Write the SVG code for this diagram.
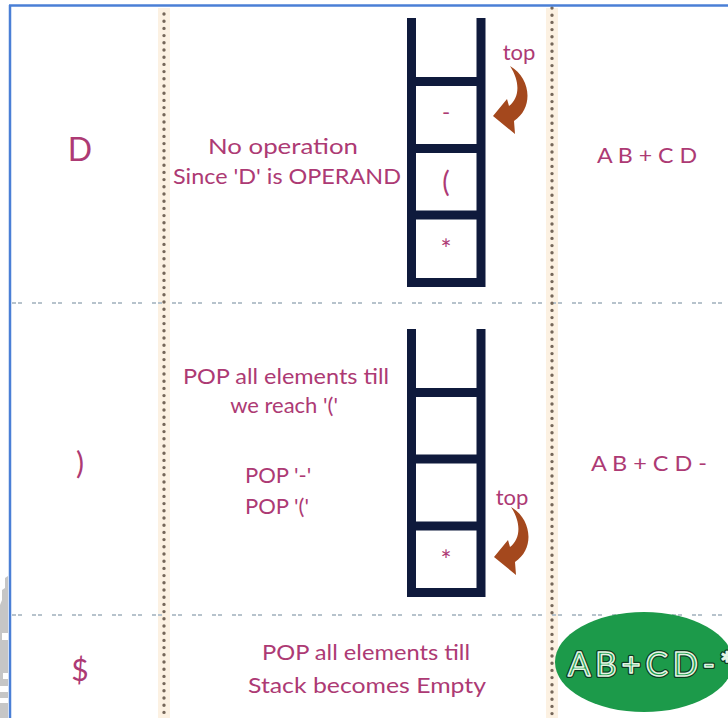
<svg xmlns="http://www.w3.org/2000/svg" width="728" height="718" viewBox="0 0 728 718">
<style>
.t{font-family:Lato,"Open Sans","Liberation Sans",sans-serif;fill:#ad3a74;}
.stack{fill:none;stroke:#0f1a3c;stroke-width:9;stroke-linecap:butt;}
.vband{stroke:#fcf1e2;stroke-width:12;}
.vdot{stroke:#75675a;stroke-width:3.4;stroke-linecap:round;stroke-dasharray:0 7.2;}
.hdash{stroke:#b7c3cc;stroke-width:2;stroke-dasharray:4 2 4 10;}
.arrow{fill:#a4481d;}
.rt{font-family:Lato,"Liberation Sans",sans-serif;font-size:33px;stroke-linejoin:round;}
</style>
<defs>
<path id="swoosh" d="M510,66 C531,78 534,108 514,121 L515,134 L493,116 L507,99 L509,106 C519,98 521,83 510,66 Z"/>
</defs>
<rect width="728" height="718" fill="#ffffff"/>

<g id="left-artifact">
<polygon points="0,605 2,600 2,590 5,588 5,578 8,576 8,718 0,718" fill="#c6c6c6"/>
<rect x="2" y="633" width="6" height="7" fill="#ffffff"/>
<rect x="3" y="673" width="5" height="6" fill="#ffffff"/>
<rect x="0" y="686" width="8" height="6" fill="#ffffff"/>
<rect x="0" y="698" width="8" height="5" fill="#ffffff"/>
</g>

<g id="grid">
<line class="vband" x1="164" y1="8" x2="164" y2="718"/>
<line class="vband" x1="552" y1="8" x2="552" y2="718"/>
<line class="hdash" x1="12" y1="303" x2="728" y2="303"/>
<line class="hdash" x1="12" y1="615" x2="728" y2="615"/>
<line class="vdot" x1="164" y1="14" x2="164" y2="718"/>
<line class="vdot" x1="552" y1="8" x2="552" y2="718"/>
</g>

<g id="border">
<line x1="9" y1="5.5" x2="728" y2="5.5" stroke="#4a7fd6" stroke-width="2.5"/>
<line x1="10" y1="5" x2="10" y2="718" stroke="#4a7fd6" stroke-width="2.5"/>
</g>

<g id="row1">
<text class="t" x="80" y="161" font-size="32" text-anchor="middle">D</text>
<text class="t" x="283" y="154" font-size="22" text-anchor="middle" textLength="150" lengthAdjust="spacingAndGlyphs">No operation</text>
<text class="t" x="287" y="184" font-size="22" text-anchor="middle" textLength="228" lengthAdjust="spacingAndGlyphs">Since 'D' is OPERAND</text>
<text class="t" x="647" y="163" font-size="22" text-anchor="middle" textLength="100" lengthAdjust="spacingAndGlyphs">A B + C D</text>
</g>

<g id="stack1">
<path class="stack" d="M411.5,18 V282 M481,18 V282 M411.5,81.5 H481 M411.5,148.5 H481 M411.5,215 H481 M407,282.5 H485.5"/>
<text class="t" x="446" y="120" font-size="22" text-anchor="middle">-</text>
<text class="t" x="446" y="192" font-size="28" text-anchor="middle">(</text>
<text class="t" x="446" y="259" font-size="26" text-anchor="middle">*</text>
<text class="t" x="519" y="60" font-size="22" text-anchor="middle">top</text>
<use href="#swoosh" class="arrow"/>
</g>

<g id="row2">
<text class="t" x="80" y="474" font-size="30" text-anchor="middle">)</text>
<text class="t" x="286" y="384" font-size="22" text-anchor="middle" textLength="206" lengthAdjust="spacingAndGlyphs">POP all elements till</text>
<text class="t" x="284" y="413" font-size="22" text-anchor="middle">we reach '('</text>
<text class="t" x="245" y="483" font-size="22">POP '-'</text>
<text class="t" x="245" y="514" font-size="22">POP '('</text>
<text class="t" x="649" y="471" font-size="22" text-anchor="middle" textLength="116" lengthAdjust="spacingAndGlyphs">A B + C D -</text>
</g>

<g id="stack2">
<path class="stack" d="M411.5,329 V592 M481,329 V592 M411.5,392.5 H481 M411.5,459 H481 M411.5,526 H481 M407,592.5 H485.5"/>
<text class="t" x="446" y="570" font-size="26" text-anchor="middle">*</text>
<text class="t" x="512" y="505" font-size="22" text-anchor="middle">top</text>
<use href="#swoosh" class="arrow" transform="translate(1,441)"/>
</g>

<g id="row3">
<text class="t" x="80" y="681" font-size="30" text-anchor="middle">$</text>
<text class="t" x="366" y="660" font-size="22" text-anchor="middle" textLength="208" lengthAdjust="spacingAndGlyphs">POP all elements till</text>
<text class="t" x="367" y="693" font-size="22" text-anchor="middle" textLength="238" lengthAdjust="spacingAndGlyphs">Stack becomes Empty</text>
</g>

<g id="result">
<ellipse cx="644" cy="662" rx="89" ry="50" fill="#1c9a4a"/>
<text class="rt" x="568" y="676" fill="none" stroke="#0e3b20" stroke-width="4" textLength="166" lengthAdjust="spacing">AB+CD-*</text>
<text class="rt" x="568" y="676" fill="#1c9a4a" stroke="#e4f5e4" stroke-width="1.5" textLength="166" lengthAdjust="spacing">AB+CD-*</text>
</g>
</svg>
